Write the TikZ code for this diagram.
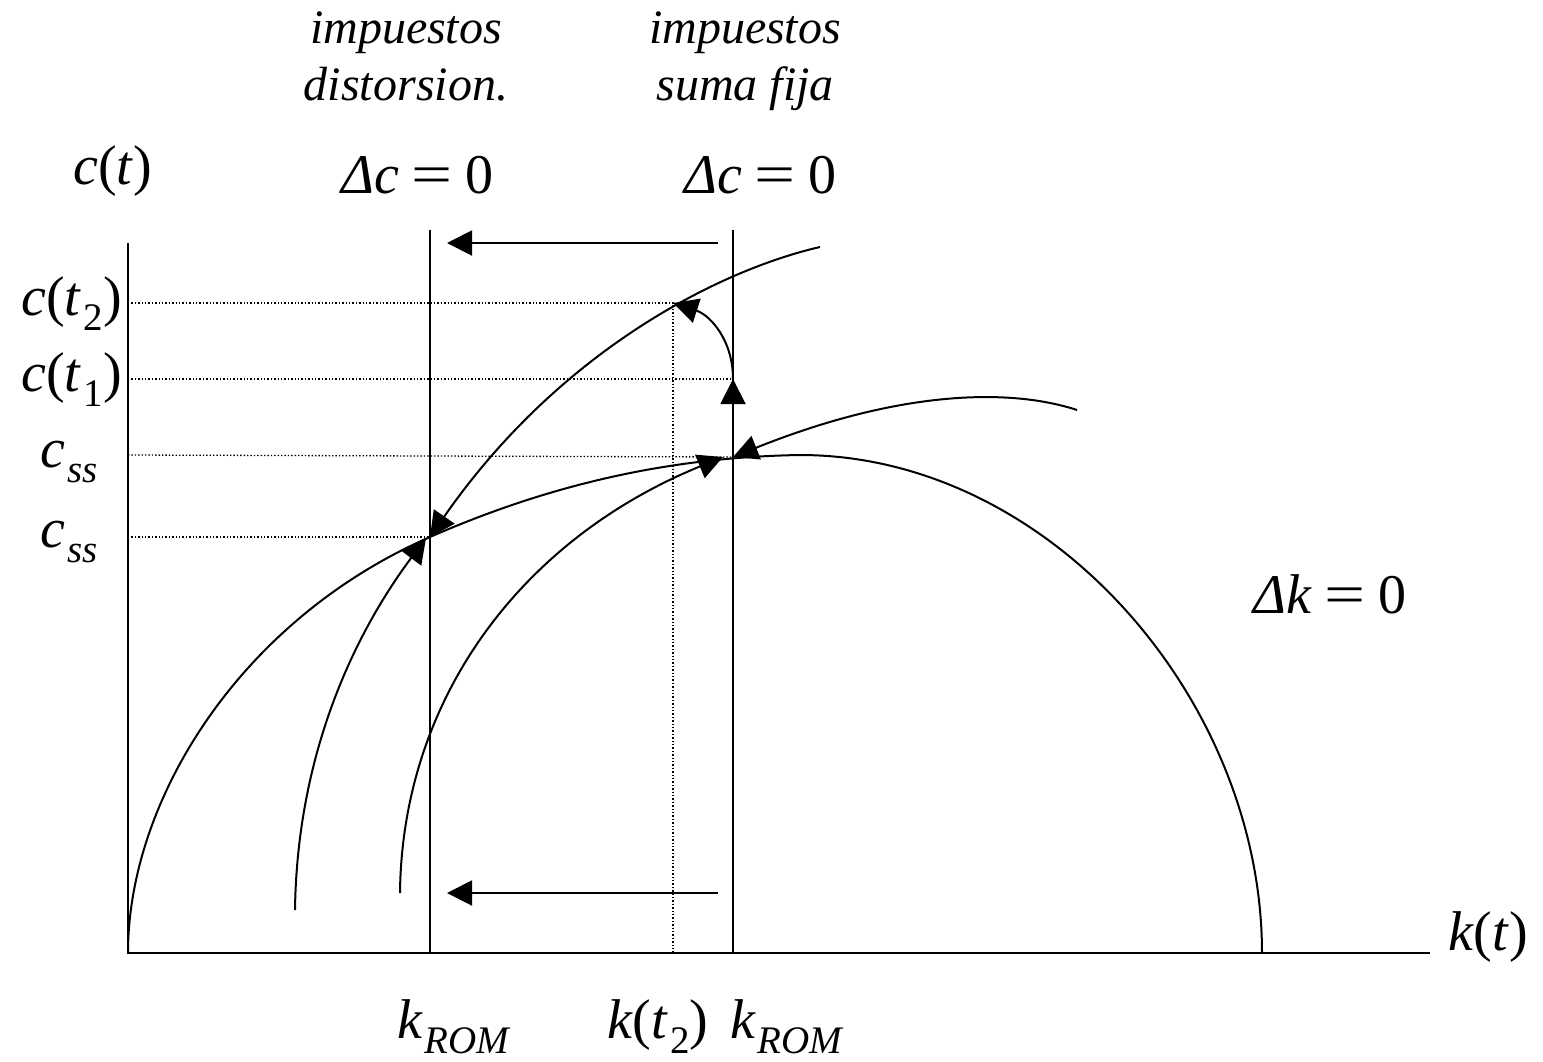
\documentclass[tikz,border=0pt]{standalone}
\usepackage{fontspec}
\setmainfont{Liberation Serif}
\usetikzlibrary{arrows.meta}
\newcommand{\lowsub}[1]{\kern2pt\raisebox{-15pt}{\fontsize{39}{39}\selectfont #1}}
\newcommand{\eqz}{\kern0.22em\scalebox{1.3}[1]{=}\kern0.24em0}
\begin{document}
\begin{tikzpicture}[x=1pt,y=-1pt,
  ln/.style={line width=2pt},
  dotl/.style={line width=1.3pt,dash pattern=on 1.4pt off 2pt},
  arr/.style={ln,-{Triangle[length=25pt,width=25pt]}},
  big/.style={font=\fontsize{56}{60}\selectfont,inner sep=0pt},
  small/.style={font=\fontsize{48}{52}\selectfont\itshape,inner sep=0pt,anchor=base}]
\useasboundingbox (0,0) rectangle (1543,1061);
% key points
\coordinate (O) at (128,953);
\coordinate (Ytop) at (128,243);
\coordinate (Xend) at (1430,953);
\coordinate (LTop) at (430,230);
\coordinate (LBot) at (430,953);
\coordinate (RTop) at (733,230);
\coordinate (RBot) at (733,953);
\coordinate (E1) at (430,537);
\coordinate (E0) at (733,457);
\coordinate (P1) at (733,379);
\coordinate (P2) at (673,303);
\coordinate (Peak) at (800,455);
\coordinate (Kend) at (1262,953);
\coordinate (T1s) at (718,243);
\coordinate (T1e) at (447,243);
\coordinate (T2s) at (718,893);
\coordinate (T2e) at (447,893);
\coordinate (As) at (295,910);
\coordinate (Ae) at (426,538);
\coordinate (Bs) at (400,893);
\coordinate (Be) at (723,457);
\coordinate (Cs) at (1077,410);
\coordinate (Ds) at (820,247);
\coordinate (Y2) at (128,303);
\coordinate (Y1) at (128,379);
\coordinate (Y0) at (128,455);
\coordinate (Ym) at (128,537);
\coordinate (K2) at (673,953);
% axes
\draw[ln] (Ytop) -- (O) -- (Xend);
% dotted guides
\draw[dotl] (Y2) -- (P2) -- (K2);
\draw[dotl] (Y1) -- (P1);
\draw[dotl] (Y0) -- (E0);
\draw[dotl] (Ym) -- (E1);
% vertical loci
\draw[ln] (LTop) -- (LBot);
\draw[ln] (RTop) -- (RBot);
% shift arrows
\draw[arr] (T1s) -- (T1e);
\draw[arr] (T2s) -- (T2e);
% hump (Delta k = 0)
\draw[ln] (O) .. controls (128,800) and (240,620) .. (E1)
  .. controls (560,480) and (680,457) .. (Peak)
  .. controls (1050,455) and (1262,700) .. (Kend);
% paths
\draw[arr] (As) .. controls (297,760) and (350,640) .. (Ae);
\draw[arr] (Bs) .. controls (402,700) and (520,540) .. (Be);
\draw[arr] (Cs) .. controls (1010,388) and (900,390) .. (E0);
\draw[arr] (Ds) .. controls (720,270) and (560,350) .. (E1);
\draw[arr] (E0) -- (P1);
\draw[arr] (P1) .. controls (733,340) and (710,315) .. (P2);
% labels
\node[small] (i1) at (406,43) {impuestos};
\node[small] (d1) at (406,100) {distorsion.};
\node[small] (i2) at (745,43) {impuestos};
\node[small] (s2) at (745,100) {suma fija};
\node[big,anchor=base west] (dc1) at (341,193) {\textit{Δc}\eqz};
\node[big,anchor=base west] (dc2) at (684,193) {\textit{Δc}\eqz};
\node[big,anchor=base west] (ct) at (73,184) {\textit{c}(\textit{t})};
\node[big,anchor=base east] (ct2) at (122,315) {\textit{c}(\textit{t}\lowsub{2})};
\node[big,anchor=base east] (ct1) at (122,391) {\textit{c}(\textit{t}\lowsub{1})};
\node[big,anchor=base west] (css1) at (40,467) {\textit{c}\lowsub{\textit{ss}}};
\node[big,anchor=base west] (css2) at (40,547) {\textit{c}\lowsub{\textit{ss}}};
\node[big,anchor=base west] (dk) at (1253,613) {\textit{Δk}\eqz};
\node[big,anchor=base west] (kt) at (1448,950) {\textit{k}(\textit{t})};
\node[big,anchor=base west] (kr1) at (397,1038) {\textit{k}\lowsub{\textit{ROM}}};
\node[big,anchor=base west] (kt2) at (607,1038) {\textit{k}(\textit{t}\lowsub{2})};
\node[big,anchor=base west] (kr2) at (730,1038) {\textit{k}\lowsub{\textit{ROM}}};
\end{tikzpicture}
\end{document}
